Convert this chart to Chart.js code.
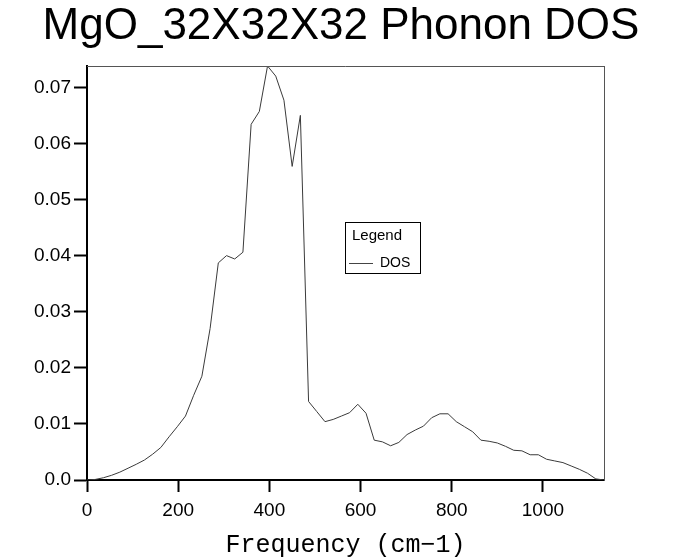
<!DOCTYPE html>
<html>
<head>
<meta charset="utf-8">
<script src="https://cdn.jsdelivr.net/npm/chart.js@4/dist/chart.umd.min.js"></script>
<style>
  html, body { margin: 0; padding: 0; background: #fff; }
  #wrap { width: 682px; height: 560px; }
</style>
</head>
<body>
<div id="wrap"><canvas id="dos_chart"></canvas></div>
<script>
// frequency grid (cm-1) and phonon DOS
const frequency = [
  0, 18, 36, 54, 72, 90, 108, 126, 144, 162, 180, 198, 216, 234, 252, 270,
  288, 306, 324, 342, 360, 378, 396, 414, 432, 450, 468, 486, 504, 522, 540, 558,
  576, 594, 612, 630, 648, 666, 684, 702, 720, 738, 756, 774, 792, 810, 828, 846,
  864, 882, 900, 918, 936, 954, 972, 990, 1008, 1026, 1044, 1062, 1080, 1098, 1116, 1134
]
const dos = [
  0, 0.0001, 0.0004, 0.00084, 0.0014, 0.0021, 0.0028, 0.00356,
  0.0046, 0.0058, 0.0077, 0.0095, 0.0114, 0.0151, 0.0185, 0.0270,
  0.0387, 0.0400, 0.0394, 0.0406, 0.0634, 0.0657, 0.0738, 0.0720,
  0.0677, 0.0559, 0.0650, 0.0140, 0.0122, 0.0104, 0.0108, 0.0114,
  0.0120, 0.0135, 0.0119, 0.0071, 0.0068, 0.0061, 0.0067, 0.0081,
  0.0089, 0.0096, 0.0111, 0.0118, 0.0118, 0.0104, 0.0095, 0.0086,
  0.0071, 0.0069, 0.0066, 0.0060, 0.0053, 0.0052, 0.0045, 0.0045,
  0.0037, 0.0034, 0.0031, 0.0025, 0.0019, 0.0012, 0.0002, 0
]
const xTicks = [0, 200, 400, 600, 800, 1000]
const yTicks = [0, 0.01, 0.02, 0.03, 0.04, 0.05, 0.06, 0.07]

const tickFont = { family: '"Liberation Sans", Arial, sans-serif', size: 19 }

// thin frame line on top plus the boxed legend inside the plot
const frameAndLegend = {
  id: 'frameAndLegend',
  afterDraw(chart) {
    const { ctx, chartArea } = chart
    ctx.save()
    ctx.strokeStyle = '#555'
    ctx.lineWidth = 1
    ctx.beginPath()
    ctx.moveTo(chartArea.left, chartArea.top + 0.5)
    ctx.lineTo(chartArea.right + 0.5, chartArea.top + 0.5)
    ctx.stroke()

    const bx = 345.5, by = 222.5, bw = 75, bh = 51
    ctx.fillStyle = '#fff'
    ctx.fillRect(bx, by, bw, bh)
    ctx.strokeStyle = '#000'
    ctx.strokeRect(bx, by, bw, bh)
    ctx.fillStyle = '#000'
    ctx.textBaseline = 'middle'
    ctx.font = '15px "Liberation Sans", Arial, sans-serif'
    ctx.fillText('Legend', 352, 236)
    ctx.font = '14px "Liberation Sans", Arial, sans-serif'
    ctx.fillText('DOS', 380, 263)
    ctx.strokeStyle = '#444'
    ctx.beginPath()
    ctx.moveTo(349, 263.5)
    ctx.lineTo(373, 263.5)
    ctx.stroke()
    ctx.restore()
  },
}

new Chart(document.getElementById('dos_chart').getContext('2d'), {
  type: 'line',
  data: {
    datasets: [
      {
        label: 'DOS',
        data: frequency.map((f, i) => ({ x: f, y: dos[i] })),
        borderColor: '#3a3a3a',
        borderWidth: 1,
        pointRadius: 0,
        tension: 0,
        fill: false,
      },
    ],
  },
  options: {
    responsive: true,
    maintainAspectRatio: false,
    animation: false,
    layout: { padding: 0 },
    plugins: {
      legend: { display: false },
      tooltip: { enabled: false },
      title: {
        display: true,
        text: 'MgO_32X32X32 Phonon DOS',
        color: '#000',
        font: { family: '"Liberation Sans", Arial, sans-serif', size: 44, weight: 'normal', lineHeight: 1.1 },
        padding: { top: 3, bottom: 14.6 },
      },
    },
    scales: {
      x: {
        type: 'linear',
        min: 0,
        max: 1134,
        afterFit: (s) => { s.height = 80 },
        afterBuildTicks: (s) => { s.ticks = xTicks.map((v) => ({ value: v })) },
        border: { display: true, color: '#000', width: 2 },
        grid: { drawOnChartArea: false, drawTicks: true, tickLength: 12, tickColor: '#000', tickWidth: 2 },
        ticks: {
          color: '#000',
          padding: 7,
          maxRotation: 0,
          font: tickFont,
          callback: (v) => String(v),
        },
        title: {
          display: true,
          text: 'Frequency (cm\u22121)',
          color: '#000',
          font: { family: '"Liberation Mono", "Courier New", monospace', size: 25 },
          padding: { top: 0, bottom: 0 },
        },
      },
      y: {
        min: 0,
        max: 0.0738,
        afterFit: (s) => { s.width = 87 },
        afterBuildTicks: (s) => { s.ticks = yTicks.map((v) => ({ value: v })) },
        border: { display: true, color: '#000', width: 2 },
        grid: { drawOnChartArea: false, drawTicks: true, tickLength: 13, tickColor: '#000', tickWidth: 2 },
        ticks: {
          color: '#000',
          padding: 3,
          font: tickFont,
          callback: (v) => (v === 0 ? '0.0' : v.toFixed(2)),
        },
      },
      // empty right-hand axis: draws the thin right frame and reserves the margin
      yRight: {
        position: 'right',
        afterFit: (s) => { s.width = 78 },
        border: { display: true, color: '#555', width: 1 },
        grid: { display: false },
        ticks: { display: false },
      },
    },
  },
  plugins: [frameAndLegend],
})
</script>
</body>
</html>
